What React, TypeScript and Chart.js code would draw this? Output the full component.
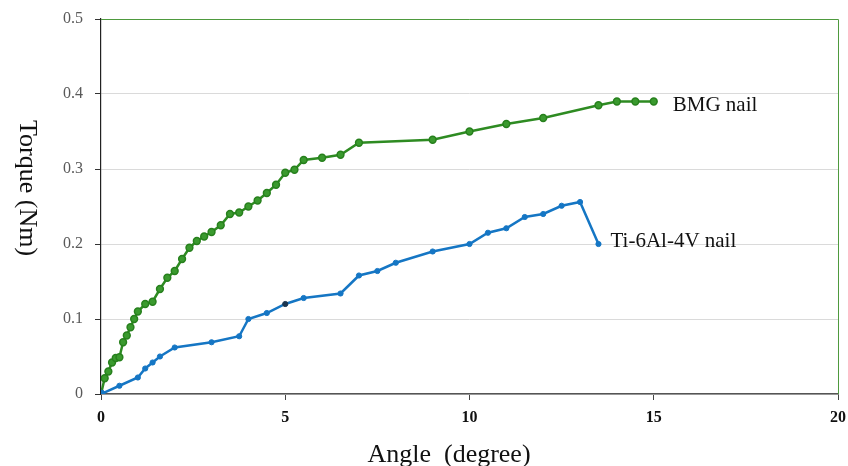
import React, { useEffect, useRef } from "react";
import { Chart, registerables } from "chart.js";

Chart.register(...registerables);

const bmgAngle = [0, 0.1, 0.2, 0.3, 0.4, 0.5, 0.6, 0.7, 0.8, 0.9, 1.0, 1.2, 1.4, 1.6, 1.8, 2.0, 2.2, 2.4, 2.6, 2.8, 3.0, 3.25, 3.5, 3.75, 4.0, 4.25, 4.5, 4.75, 5.0, 5.25, 5.5, 6.0, 6.5, 7.0, 9.0, 10, 11, 12, 13.5, 14, 14.5, 15];
const bmgTorque = [0, 0.021, 0.03, 0.042, 0.048, 0.049, 0.069, 0.078, 0.089, 0.1, 0.11, 0.12, 0.123, 0.14, 0.155, 0.164, 0.18, 0.195, 0.204, 0.21, 0.216, 0.225, 0.24, 0.242, 0.25, 0.258, 0.268, 0.279, 0.295, 0.299, 0.312, 0.315, 0.319, 0.335, 0.339, 0.35, 0.36, 0.368, 0.385, 0.39, 0.39, 0.39];

const tiAngle = [0, 0.5, 1.0, 1.2, 1.4, 1.6, 2.0, 3.0, 3.75, 4.0, 4.5, 5.0, 5.5, 6.5, 7.0, 7.5, 8.0, 9.0, 10.0, 10.5, 11.0, 11.5, 12.0, 12.5, 13.0, 13.5];
const tiTorque = [0, 0.011, 0.022, 0.034, 0.042, 0.05, 0.062, 0.069, 0.077, 0.1, 0.108, 0.12, 0.128, 0.134, 0.158, 0.164, 0.175, 0.19, 0.2, 0.215, 0.221, 0.236, 0.24, 0.251, 0.256, 0.2];

const seriesNames = ["Ti-6Al-4V nail", "BMG nail"];
const xTitle = "Angle  (degree)";
const yTitle = "Torque (Nm)";
const xMin = 0, xMax = 20, xStep = 5;
const yMin = 0, yMax = 0.5, yStep = 0.1;

const GREEN = "#2E8B22";
const BLUE = "#1576C4";
const SERIF = "'Liberation Serif', 'Times New Roman', serif";

const decorPlugin = {
  id: "decor",
  afterDraw(chart: any) {
    const { ctx, chartArea, scales } = chart;
    ctx.save();
    ctx.strokeStyle = "#4E9A3E";
    ctx.lineWidth = 1;
    ctx.beginPath();
    ctx.moveTo(chartArea.left, chartArea.top + 0.5);
    ctx.lineTo(chartArea.right + 0.5, chartArea.top + 0.5);
    ctx.lineTo(chartArea.right + 0.5, chartArea.bottom);
    ctx.stroke();

    ctx.fillStyle = "#111";
    ctx.font = `21px ${SERIF}`;
    ctx.textAlign = "left";
    ctx.textBaseline = "alphabetic";
    const bx = scales.x.getPixelForValue(bmgAngle[bmgAngle.length - 1]);
    const by = scales.y.getPixelForValue(bmgTorque[bmgTorque.length - 1]);
    ctx.fillText(seriesNames[1], bx + 19, by + 9);
    const tx = scales.x.getPixelForValue(tiAngle[tiAngle.length - 1]);
    const ty = scales.y.getPixelForValue(tiTorque[tiTorque.length - 1]);
    ctx.fillText(seriesNames[0], tx + 12, ty + 3);

    ctx.fillStyle = "#111";
    ctx.font = `26px ${SERIF}`;
    ctx.textAlign = "center";
    ctx.textBaseline = "alphabetic";
    ctx.fillText(xTitle, 449, 462);
    ctx.translate(27, 188);
    ctx.rotate(Math.PI / 2);
    ctx.textBaseline = "middle";
    ctx.fillText(yTitle, 0, 0);
    ctx.restore();
  },
};

export default function App() {
  const ref = useRef<HTMLCanvasElement | null>(null);

  useEffect(() => {
    if (!ref.current) return;
    const chart = new Chart(ref.current, {
      type: "line",
      data: {
        datasets: [
          {
            label: seriesNames[0],
            data: tiAngle.map((a, i) => ({ x: a, y: tiTorque[i] })),
            borderColor: BLUE,
            backgroundColor: BLUE,
            borderWidth: 2.5,
            pointRadius: (c: any) => (c.dataIndex === 0 ? 4 : 2.6),
            pointBackgroundColor: (c: any) => (c.dataIndex === 11 ? "#1a3550" : BLUE),
            pointBorderColor: (c: any) => (c.dataIndex === 11 ? "#1a3550" : BLUE),
            pointBorderWidth: 1,
            tension: 0,
          },
          {
            label: seriesNames[1],
            data: bmgAngle.map((a, i) => ({ x: a, y: bmgTorque[i] })),
            borderColor: GREEN,
            backgroundColor: "#3A9A2E",
            borderWidth: 2.5,
            pointRadius: 3.4,
            pointBorderColor: "#27801D",
            pointBorderWidth: 1.5,
            tension: 0,
          },
        ],
      },
      options: {
        responsive: false,
        animation: false,
        layout: { padding: { left: 0, right: 10, top: 19, bottom: 0 } },
        plugins: {
          legend: { display: false },
          tooltip: { enabled: false },
        },
        scales: {
          x: {
            type: "linear",
            min: xMin,
            max: xMax,
            afterFit: (s: any) => {
              s.height = 72;
              s.paddingLeft = 0;
              s.paddingRight = 0;
            },
            ticks: {
              stepSize: xStep,
              color: "#111",
              padding: 8,
              font: { family: SERIF, size: 16, weight: "bold" },
            },
            grid: {
              drawOnChartArea: false,
              drawTicks: true,
              tickLength: 6,
              tickColor: "#444",
            },
            border: { color: "#555", width: 1.5 },
          },
          y: {
            type: "linear",
            min: yMin,
            max: yMax,
            afterFit: (s: any) => {
              s.width = 101;
              s.paddingTop = 0;
              s.paddingBottom = 0;
            },
            ticks: {
              stepSize: yStep,
              color: "#595959",
              padding: 12,
              font: { family: SERIF, size: 16 },
              callback: (v: any) => (v === 0 ? "0" : Number(v).toFixed(1)),
            },
            grid: {
              color: "#DADADA",
              lineWidth: 1,
              drawTicks: true,
              tickLength: 6,
              tickColor: "#333",
            },
            border: { color: "#222", width: 1.2 },
          },
        },
      },
      plugins: [decorPlugin],
    } as any);
    return () => chart.destroy();
  }, []);

  return (
    <div style={{ position: "fixed", left: 0, top: 0, width: 848, height: 466, background: "#fff" }}>
      <canvas ref={ref} width={848} height={466} />
    </div>
  );
}
